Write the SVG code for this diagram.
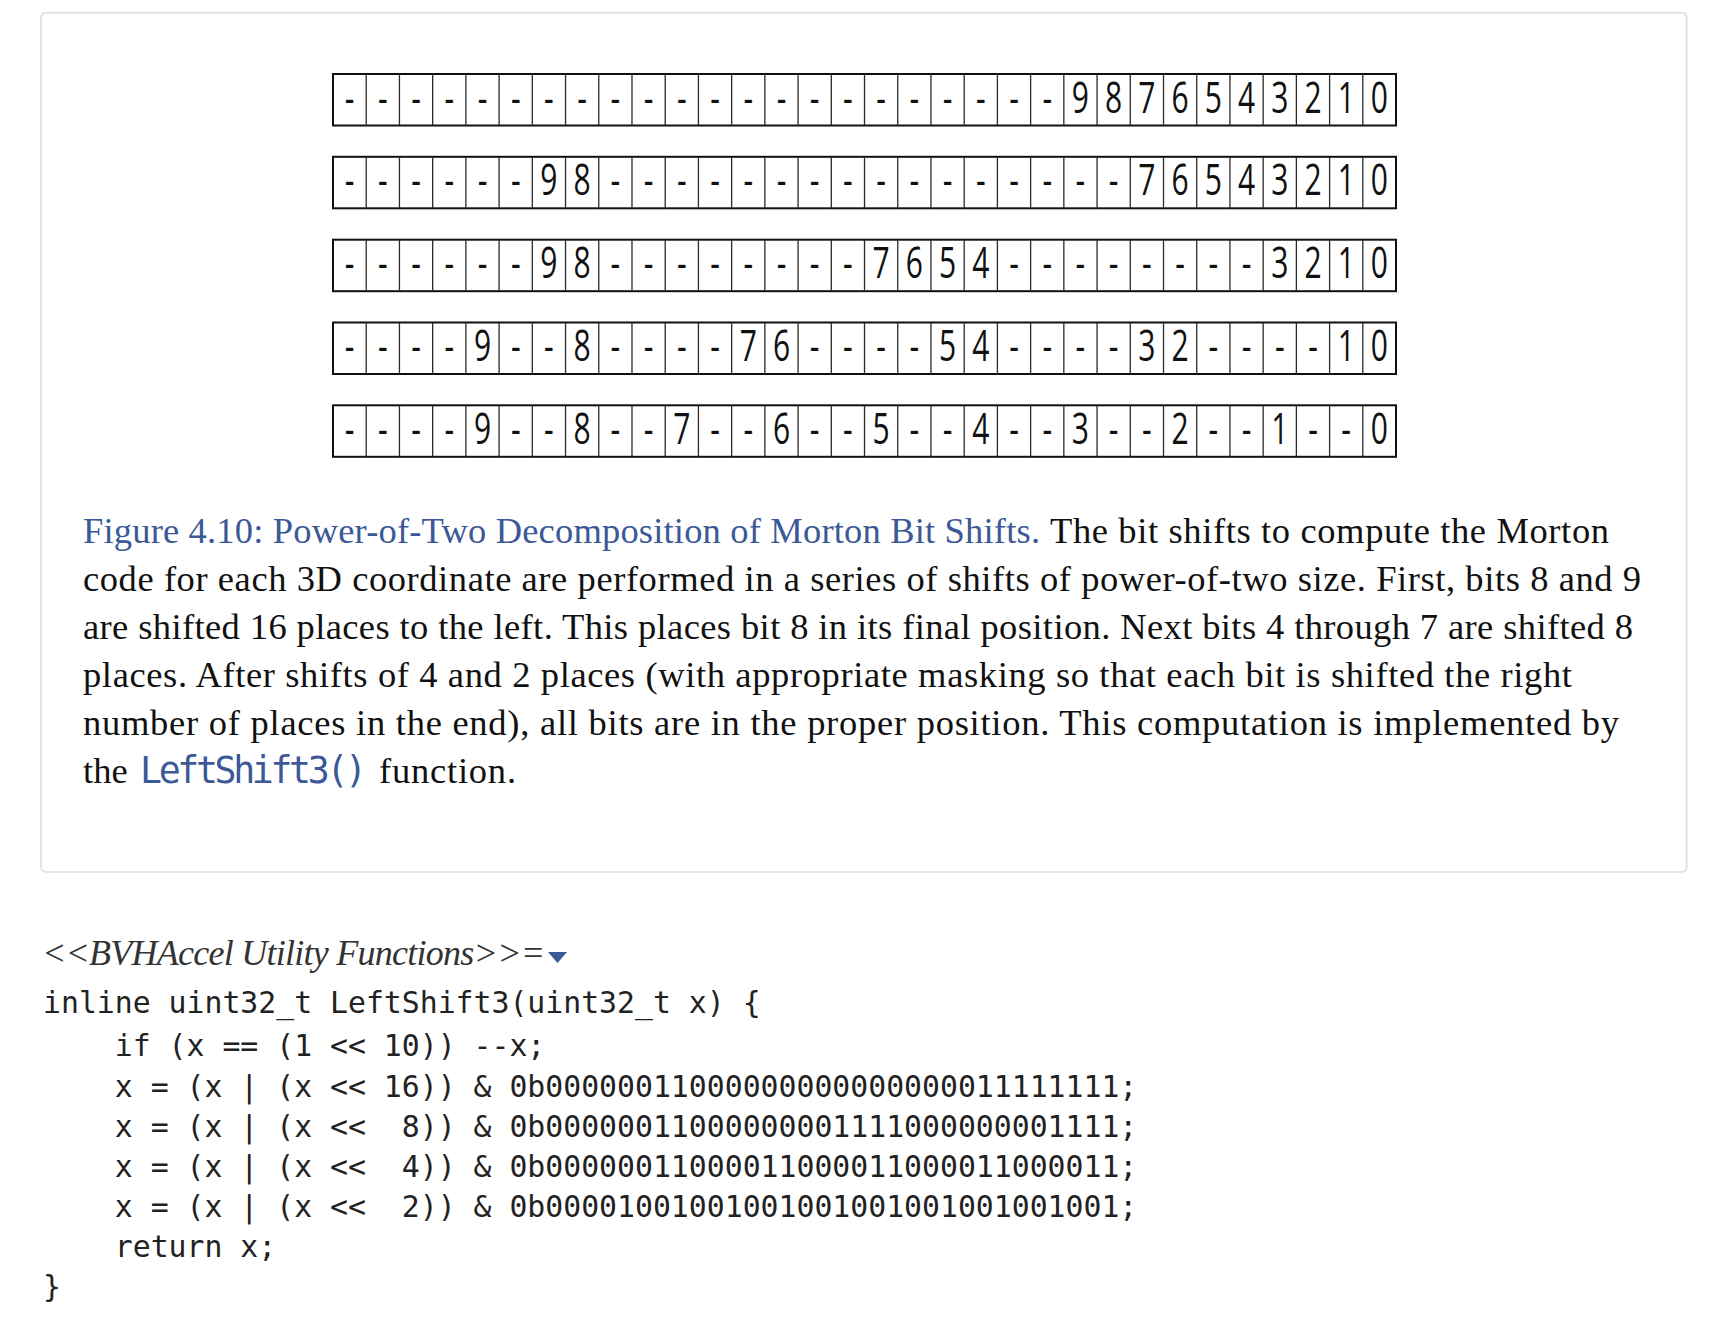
<svg xmlns="http://www.w3.org/2000/svg" width="1732" height="1322" viewBox="0 0 1732 1322">
<style>
.frame{fill:#fff;stroke:#dedede;stroke-width:1.6}
.rowbox{fill:#fff;stroke:#111;stroke-width:2}
.div{fill:none;stroke:#2a2a2a;stroke-width:1.3}
.bits{font-family:"Open Sans","Noto Sans",sans-serif;font-size:30px;fill:#111;text-anchor:middle}
.cap{font-family:"Liberation Serif",serif;font-size:36.5px;fill:#111}
.blue{fill:#3b5897}
.mono{font-family:"DejaVu Sans Mono","Liberation Mono",monospace;white-space:pre}
.code{font-family:"DejaVu Sans Mono","Liberation Mono",monospace;font-size:29.8px;fill:#222;white-space:pre}
.hdr{font-family:"Liberation Serif",serif;font-style:italic;font-size:36px;fill:#333}
</style>
<defs>
<path id="dividers" class="div" d="M366.22 0V51.5M399.44 0V51.5M432.66 0V51.5M465.88 0V51.5M499.1 0V51.5M532.32 0V51.5M565.54 0V51.5M598.76 0V51.5M631.98 0V51.5M665.2 0V51.5M698.42 0V51.5M731.64 0V51.5M764.86 0V51.5M798.08 0V51.5M831.3 0V51.5M864.52 0V51.5M897.74 0V51.5M930.96 0V51.5M964.18 0V51.5M997.4 0V51.5M1030.62 0V51.5M1063.84 0V51.5M1097.06 0V51.5M1130.28 0V51.5M1163.5 0V51.5M1196.72 0V51.5M1229.94 0V51.5M1263.16 0V51.5M1296.38 0V51.5M1329.6 0V51.5M1362.82 0V51.5"/>
<g id="rowframe"><rect class="rowbox" x="333" y="0" width="1063" height="51.5"/><use href="#dividers"/></g>
</defs>
<rect id="figure-frame" class="frame" x="41" y="12.7" width="1645.7" height="859.3" rx="5"/>

<g id="row1">
<use href="#rowframe" transform="translate(0,74)"/>
<g transform="translate(0,112.5) scale(1,1.48)"><text class="bits" y="0" x="349.61 382.83 416.05 449.27 482.49 515.71 548.93 582.15 615.37 648.59 681.81 715.03 748.25 781.47 814.69 847.91 881.13 914.35 947.57 980.79 1014.01 1047.23 1080.45 1113.67 1146.89 1180.11 1213.33 1246.55 1279.77 1312.99 1346.21 1379.43">----------------------9876543210</text></g>
</g>
<g id="row2">
<use href="#rowframe" transform="translate(0,156.8)"/>
<g transform="translate(0,195.3) scale(1,1.48)"><text class="bits" y="0" x="349.61 382.83 416.05 449.27 482.49 515.71 548.93 582.15 615.37 648.59 681.81 715.03 748.25 781.47 814.69 847.91 881.13 914.35 947.57 980.79 1014.01 1047.23 1080.45 1113.67 1146.89 1180.11 1213.33 1246.55 1279.77 1312.99 1346.21 1379.43">------98----------------76543210</text></g>
</g>
<g id="row3">
<use href="#rowframe" transform="translate(0,239.7)"/>
<g transform="translate(0,278.2) scale(1,1.48)"><text class="bits" y="0" x="349.61 382.83 416.05 449.27 482.49 515.71 548.93 582.15 615.37 648.59 681.81 715.03 748.25 781.47 814.69 847.91 881.13 914.35 947.57 980.79 1014.01 1047.23 1080.45 1113.67 1146.89 1180.11 1213.33 1246.55 1279.77 1312.99 1346.21 1379.43">------98--------7654--------3210</text></g>
</g>
<g id="row4">
<use href="#rowframe" transform="translate(0,322.5)"/>
<g transform="translate(0,361) scale(1,1.48)"><text class="bits" y="0" x="349.61 382.83 416.05 449.27 482.49 515.71 548.93 582.15 615.37 648.59 681.81 715.03 748.25 781.47 814.69 847.91 881.13 914.35 947.57 980.79 1014.01 1047.23 1080.45 1113.67 1146.89 1180.11 1213.33 1246.55 1279.77 1312.99 1346.21 1379.43">----9--8----76----54----32----10</text></g>
</g>
<g id="row5">
<use href="#rowframe" transform="translate(0,405.3)"/>
<g transform="translate(0,443.8) scale(1,1.48)"><text class="bits" y="0" x="349.61 382.83 416.05 449.27 482.49 515.71 548.93 582.15 615.37 648.59 681.81 715.03 748.25 781.47 814.69 847.91 881.13 914.35 947.57 980.79 1014.01 1047.23 1080.45 1113.67 1146.89 1180.11 1213.33 1246.55 1279.77 1312.99 1346.21 1379.43">----9--8--7--6--5--4--3--2--1--0</text></g>
</g>

<g id="caption">
<text class="cap blue" x="83" y="543" textLength="957" lengthAdjust="spacing">Figure 4.10: Power-of-Two Decomposition of Morton Bit Shifts.</text>
<text class="cap" x="1050" y="543" textLength="559" lengthAdjust="spacing">The bit shifts to compute the Morton</text>
<text class="cap" x="83" y="591" textLength="1558" lengthAdjust="spacing">code for each 3D coordinate are performed in a series of shifts of power-of-two size. First, bits 8 and 9</text>
<text class="cap" x="83" y="639" textLength="1550" lengthAdjust="spacing">are shifted 16 places to the left. This places bit 8 in its final position. Next bits 4 through 7 are shifted 8</text>
<text class="cap" x="83" y="687" textLength="1489" lengthAdjust="spacing">places. After shifts of 4 and 2 places (with appropriate masking so that each bit is shifted the right</text>
<text class="cap" x="83" y="735" textLength="1536" lengthAdjust="spacing">number of places in the end), all bits are in the proper position. This computation is implemented by</text>
<text class="cap" x="83" y="783">the</text>
<text class="cap blue mono" x="140" y="783" font-size="31" textLength="227" lengthAdjust="spacing">LeftShift3()</text>
<text class="cap" x="379" y="783" textLength="137" lengthAdjust="spacing">function.</text>
</g>

<g id="code-header">
<text class="hdr" x="42" y="965" textLength="503" lengthAdjust="spacing">&lt;&lt;BVHAccel Utility Functions&gt;&gt;=</text>
<polygon fill="#3b5897" points="548,952 567,952 557.5,963"/>
</g>

<g id="code" xml:space="preserve">
<text class="code" x="43" y="1013">inline uint32_t LeftShift3(uint32_t x) {</text>
<text class="code" x="43" y="1056">    if (x == (1 &lt;&lt; 10)) --x;</text>
<text class="code" x="43" y="1097">    x = (x | (x &lt;&lt; 16)) &amp; 0b00000011000000000000000011111111;</text>
<text class="code" x="43" y="1137">    x = (x | (x &lt;&lt;  8)) &amp; 0b00000011000000001111000000001111;</text>
<text class="code" x="43" y="1177">    x = (x | (x &lt;&lt;  4)) &amp; 0b00000011000011000011000011000011;</text>
<text class="code" x="43" y="1217">    x = (x | (x &lt;&lt;  2)) &amp; 0b00001001001001001001001001001001;</text>
<text class="code" x="43" y="1257">    return x;</text>
<text class="code" x="43" y="1297">}</text>
</g>
</svg>
